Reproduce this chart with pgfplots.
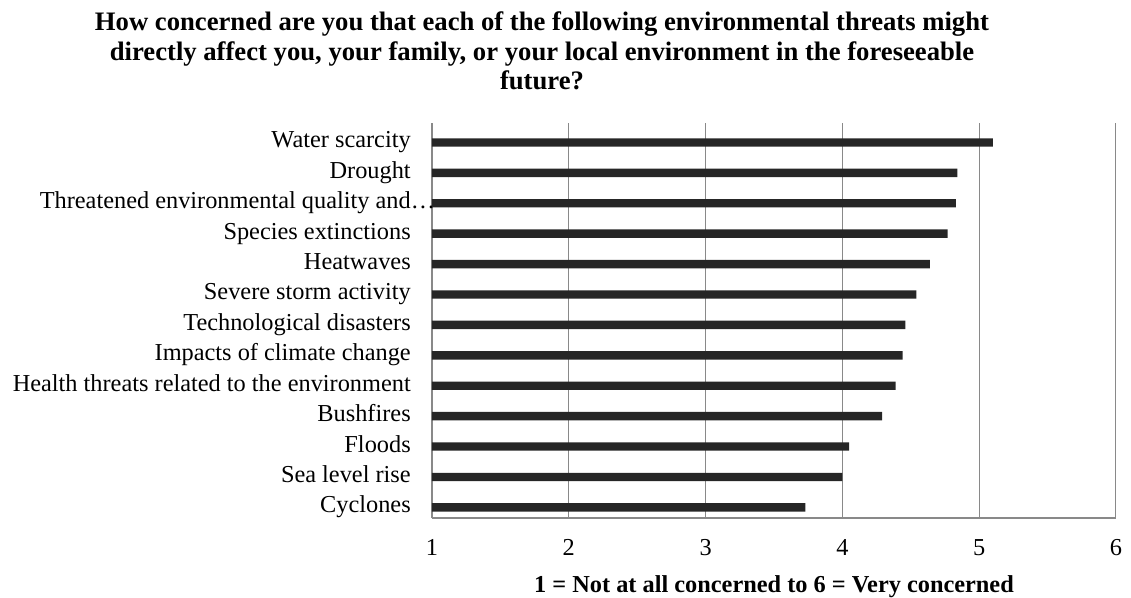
\documentclass[border=0pt]{standalone}
\usepackage{fontspec}
\setmainfont{Liberation Serif}
\usepackage{pgfplots}
\pgfplotsset{compat=1.18}

\definecolor{barcol}{HTML}{262626}
\definecolor{gridcol}{HTML}{898989}

\begin{document}
\begin{tikzpicture}
% page frame: 1131 x 597 px at 0.75pt per px, axis box at the origin
\useasboundingbox (-324pt,-59.25pt) rectangle (524.25pt,388.5pt);
\begin{axis}[
    at={(0pt,0pt)},
    anchor=south west,
    scale only axis,
    width=513pt,
    height=296.25pt,
    xbar,
    bar width=6.3pt,
    xmin=1, xmax=6,
    ymin=-0.35, ymax=12.64,
    xtick={1,2,3,4,5,6},
    ytick={0,...,12},
    yticklabels={Cyclones, Sea level rise, Floods, Bushfires,
        Health threats related to the environment,
        Impacts of climate change, Technological disasters,
        Severe storm activity, Heatwaves, Species extinctions,
        Threatened environmental quality and\rlap{…},
        Drought, Water scarcity},
    major tick length=0pt,
    xmajorgrids,
    grid style={gridcol, line width=0.75pt},
    axis x line*=bottom,
    axis y line*=left,
    axis line style={gridcol, line width=1pt, -},
    xticklabel style={font=\fontsize{18.25}{21}\selectfont, anchor=base,
        yshift=-27.75pt, inner sep=0pt,
        /pgf/number format/assume math mode=true},
    yticklabel style={font=\fontsize{18.25}{21}\selectfont, anchor=base east,
        xshift=-15.75pt, yshift=-4.1pt, inner sep=0pt},
    xlabel={\textbf{1 = Not at all concerned to 6 = Very concerned}},
    xlabel style={font=\fontsize{18.25}{21}\selectfont,
        at={(axis description cs:0.5,0)}, anchor=base, yshift=-55.5pt},
    clip=true,
]
\addplot[fill=barcol, draw=none] coordinates {
    (3.73,0)
    (4.00,1)
    (4.05,2)
    (4.29,3)
    (4.39,4)
    (4.44,5)
    (4.46,6)
    (4.54,7)
    (4.64,8)
    (4.77,9)
    (4.83,10)
    (4.84,11)
    (5.10,12)
};
\end{axis}

% title, three lines as in the reference
\begin{scope}[every node/.style={anchor=base, inner sep=0pt,
        font=\fontsize{20}{22}\selectfont\bfseries}]
\node at (82.5pt,365.25pt) {How concerned are you that each of the following environmental threats might};
\node at (82.5pt,342.75pt) {directly affect you, your family, or your local environment in the foreseeable};
\node at (82.5pt,321pt) {future?};
\end{scope}
\end{tikzpicture}
\end{document}
